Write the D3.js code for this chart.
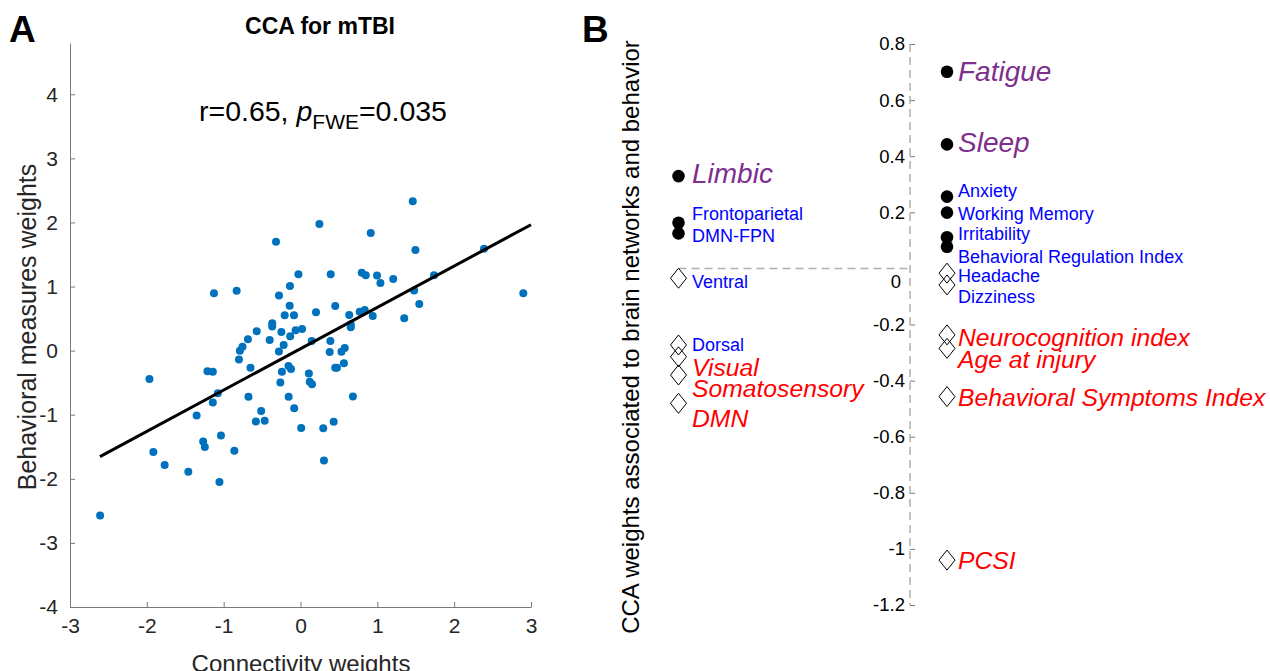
<!DOCTYPE html>
<html>
<head>
<meta charset="utf-8">
<script src="https://cdn.jsdelivr.net/npm/d3@7"></script>
<style>
  body { margin: 0; background: #fff; }
  svg text { font-family: "Liberation Sans", Arial, Helvetica, sans-serif; }
</style>
</head>
<body>
<div id="chart"></div>
<script>
// panel A: subject scores
var connectivity = [
  -1.126, -0.831, -0.319, -0.280, -0.137, -0.027, -0.141, -0.206, -0.085, 0.246,
  0.202, 0.393, 0.452, 0.634, 0.654, 0.654, 0.797, 0.849, 0.914, 0.996,
  1.040, 0.771, 0.836, 0.940, 1.207, 1.350, 1.461, 1.496, 1.478, 1.546,
  1.738, 2.388, 2.900, -0.570, -0.368, -0.368, -0.249, -0.063, 0.020, -0.134,
  -0.684, -0.401, 0.146, 0.389, -0.219, -0.755, -0.789, -0.281, 0.380, 0.533,
  0.576, -0.801, 0.565, -0.651, -0.156, -0.124, 0.452, 0.474, -1.211, -1.141,
  -0.242, 0.109, -1.966, -0.262, 0.120, 0.150, -1.076, -1.141, -0.677, -0.154,
  0.682, -0.082, -0.512, -0.581, -0.466, -1.352, 0.432, 0.009, 0.296, -1.035,
  -1.267, -1.245, -1.915, -0.861, 0.305, -1.768, -1.460, -1.055, -2.608
];
var behavioral = [
  0.895, 0.936, 1.700, 0.861, 1.009, 1.192, 0.702, 0.552, 0.552, 1.977,
  0.599, 1.192, 0.697, 0.557, 0.412, 0.365, 1.217, 1.176, 1.836, 1.173,
  1.056, 0.608, 0.635, 0.541, 1.119, 0.505, 2.331, 1.571, 0.939, 0.729,
  1.176, 1.591, 0.895, 0.304, 0.427, 0.378, 0.289, 0.320, 0.339, 0.225,
  0.178, 0.167, 0.151, 0.151, 0.089, 0.062, -0.002, -0.012, -0.020, -0.016,
  0.042, -0.137, -0.195, -0.267, -0.239, -0.285, -0.267, -0.267, -0.320, -0.328,
  -0.328, -0.356, -0.441, -0.499, -0.484, -0.524, -0.665, -0.808, -0.718, -0.718,
  -0.714, -0.899, -0.941, -1.105, -1.094, -1.014, -1.108, -1.209, -1.211, -1.326,
  -1.417, -1.502, -1.580, -1.562, -1.713, -1.783, -1.888, -2.048, -2.574
];
var fitSlope = 0.645, fitIntercept = 0.03, fitRange = [-2.61, 3.0];
var xTicksA = [-3, -2, -1, 0, 1, 2, 3];
var yTicksA = [-4, -3, -2, -1, 0, 1, 2, 3, 4];

// panel B: CCA weights
var networks = ["Limbic", "Frontoparietal", "DMN-FPN", "Ventral", "Dorsal", "Visual", "Somatosensory", "DMN"];
var networkWeights = [0.329, 0.163, 0.125, -0.035, -0.273, -0.315, -0.380, -0.481];
var networkLabelAt = [0.340, 0.197, 0.116, -0.048, -0.273, -0.351, -0.426, -0.533];
var networkClass = ["top", "minor", "minor", "minor", "minor", "neg", "neg", "neg"];

var behaviors = ["Fatigue", "Sleep", "Anxiety", "Working Memory", "Irritability",
  "Behavioral Regulation Index", "Headache", "Dizziness", "Neurocognition index",
  "Age at injury", "Behavioral Symptoms Index", "PCSI"];
var behaviorWeights = [0.701, 0.442, 0.256, 0.199, 0.111, 0.077, -0.017, -0.059, -0.237, -0.285, -0.457, -1.040];
var behaviorLabelAt = [0.704, 0.451, 0.276, 0.197, 0.126, 0.044, -0.027, -0.102, -0.245, -0.323, -0.458, -1.041];
var behaviorClass = ["top", "top", "minor", "minor", "minor", "minor", "minor", "minor", "neg", "neg", "neg", "neg"];
var yTicksB = [0.8, 0.6, 0.4, 0.2, 0, -0.2, -0.4, -0.6, -0.8, -1, -1.2];

var width = 1270, height = 671;
var svg = d3.select("#chart").append("svg")
    .attr("width", width)
    .attr("height", height);

var axisGray = "#7a7a7a", textGray = "#262626";

// ---------- panel A ----------
var xA = d3.scaleLinear().domain([-3, 3]).range([70, 531]);
var yA = d3.scaleLinear().domain([-4, 4.8]).range([607, 43]);

var gA = svg.append("g");

var xAxisA = gA.append("g")
    .attr("transform", "translate(0," + yA(-4) + ")")
    .call(d3.axisBottom(xA).tickValues(xTicksA).tickFormat(function (d) { return String(d); })
        .tickSizeInner(-5).tickSizeOuter(0).tickPadding(11));
var yAxisA = gA.append("g")
    .attr("transform", "translate(" + xA(-3) + ",0)")
    .call(d3.axisLeft(yA).tickValues(yTicksA).tickFormat(function (d) { return String(d); })
        .tickSizeInner(-5).tickSizeOuter(0).tickPadding(12));

[xAxisA, yAxisA].forEach(function (ax) {
    ax.select(".domain").attr("stroke", axisGray);
    ax.selectAll(".tick line").attr("stroke", axisGray);
    ax.selectAll(".tick text").attr("fill", textGray).style("font-size", "21px");
});

// scatter points
var pts = connectivity.map(function (d, i) { return { x: d, y: behavioral[i] }; });
gA.append("g").selectAll("circle")
    .data(pts)
    .enter().append("circle")
    .attr("cx", function (d) { return xA(d.x); })
    .attr("cy", function (d) { return yA(d.y); })
    .attr("r", 4)
    .attr("fill", "#0072BD");

// least squares line
var line = d3.line()
    .x(function (d) { return xA(d); })
    .y(function (d) { return yA(fitIntercept + fitSlope * d); });
gA.append("path")
    .datum(fitRange)
    .attr("d", line)
    .attr("stroke", "#000")
    .attr("stroke-width", 3)
    .attr("fill", "none");

gA.append("text")
    .attr("x", 320).attr("y", 34)
    .attr("text-anchor", "middle")
    .style("font-size", "23px").style("font-weight", "bold")
    .text("CCA for mTBI");

var stat = gA.append("text")
    .attr("x", 199).attr("y", 121)
    .style("font-size", "28.5px")
    .attr("fill", "#000");
stat.append("tspan").text("r=0.65, ");
stat.append("tspan").style("font-style", "italic").text("p");
stat.append("tspan").attr("dy", 8).style("font-size", "21px").text("FWE");
stat.append("tspan").attr("dy", -8).text("=0.035");

gA.append("text")
    .attr("x", 301).attr("y", 672)
    .attr("text-anchor", "middle")
    .attr("fill", textGray)
    .style("font-size", "24px")
    .text("Connectivity weights");

gA.append("text")
    .attr("transform", "translate(36,327) rotate(-90)")
    .attr("text-anchor", "middle")
    .attr("fill", textGray)
    .style("font-size", "25px")
    .text("Behavioral measures weights");

svg.append("text").attr("x", 9).attr("y", 42)
    .style("font-size", "37px").style("font-weight", "bold").text("A");
svg.append("text").attr("x", 582).attr("y", 42)
    .style("font-size", "37px").style("font-weight", "bold").text("B");

// ---------- panel B ----------
var yB = d3.scaleLinear().domain([-1.2, 0.8]).range([605, 44]);
var xB = d3.scalePoint().domain(["networks", "behavior"]).range([678.5, 947]);
var axisX = 910;
var labelGap = { networks: 13.5, behavior: 11 };

var gB = svg.append("g");

var yAxisB = gB.append("g")
    .attr("transform", "translate(" + axisX + ",0)")
    .call(d3.axisLeft(yB).tickValues(yTicksB)
        .tickFormat(function (d) { return String(+d.toFixed(1)); })
        .tickSizeInner(-5).tickSizeOuter(0).tickPadding(5));
yAxisB.select(".domain").remove();
yAxisB.selectAll(".tick line").attr("stroke", axisGray);
yAxisB.selectAll(".tick text").attr("fill", "#000").style("font-size", "18.5px");
// zero label sits a little below its tick
yAxisB.selectAll(".tick").filter(function (d) { return d === 0; })
    .select("text").attr("x", -9).attr("dy", "1.05em");
yAxisB.selectAll(".tick").filter(function (d) { return d === 0; })
    .select("line").remove();

// dashed reference lines
gB.append("line")
    .attr("x1", axisX).attr("x2", axisX)
    .attr("y1", yB(0.8)).attr("y2", yB(-1.2))
    .attr("stroke", "#b0b0b0").attr("stroke-width", 1.5)
    .attr("stroke-dasharray", "8,5");
gB.append("line")
    .attr("x1", xB("networks")).attr("x2", axisX)
    .attr("y1", yB(0)).attr("y2", yB(0))
    .attr("stroke", "#b0b0b0").attr("stroke-width", 1.5)
    .attr("stroke-dasharray", "8,5");

gB.append("text")
    .attr("transform", "translate(639,337) rotate(-90)")
    .attr("text-anchor", "middle")
    .attr("fill", "#000")
    .style("font-size", "24px")
    .text("CCA weights associated to brain networks and behavior");

var labelStyle = {
    top: { color: "#7E2F8E", size: "28px", italic: true },
    minor: { color: "#0000FF", size: "18px", italic: false },
    neg: { color: "#FF0000", size: "24.7px", italic: true }
};

var items = networks.map(function (n, i) {
    return { name: n, side: "networks", w: networkWeights[i], at: networkLabelAt[i], cls: networkClass[i] };
}).concat(behaviors.map(function (n, i) {
    return { name: n, side: "behavior", w: behaviorWeights[i], at: behaviorLabelAt[i], cls: behaviorClass[i] };
}));

var diamond = d3.symbol().type(d3.symbolDiamond2).size(255);

gB.append("g").selectAll("path")
    .data(items.filter(function (d) { return d.w < 0; }))
    .enter().append("path")
    .attr("d", diamond)
    .attr("transform", function (d) {
        return "translate(" + xB(d.side) + "," + yB(d.w) + ") scale(0.8,1)";
    })
    .attr("fill", "none")
    .attr("stroke", "#000")
    .attr("stroke-width", 1)
    .attr("vector-effect", "non-scaling-stroke");

gB.append("g").selectAll("circle")
    .data(items.filter(function (d) { return d.w >= 0; }))
    .enter().append("circle")
    .attr("cx", function (d) { return xB(d.side); })
    .attr("cy", function (d) { return yB(d.w); })
    .attr("r", 6.3)
    .attr("fill", "#000");

gB.append("g").selectAll("text")
    .data(items)
    .enter().append("text")
    .attr("x", function (d) { return xB(d.side) + labelGap[d.side]; })
    .attr("y", function (d) { return yB(d.at); })
    .attr("dy", "0.36em")
    .attr("fill", function (d) { return labelStyle[d.cls].color; })
    .style("font-size", function (d) { return labelStyle[d.cls].size; })
    .style("font-style", function (d) { return labelStyle[d.cls].italic ? "italic" : "normal"; })
    .text(function (d) { return d.name; });
</script>
</body>
</html>
